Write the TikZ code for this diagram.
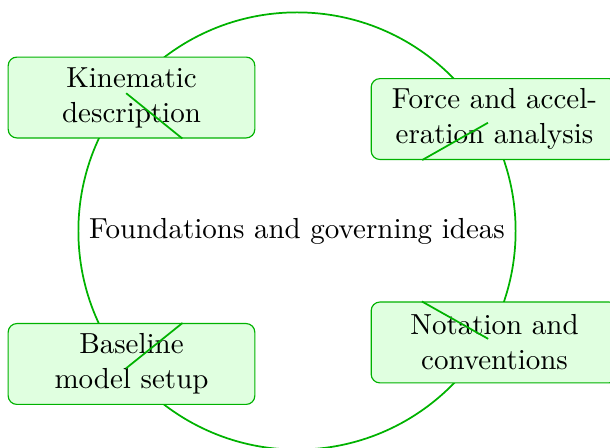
\documentclass[tikz,border=0pt]{standalone}
\usepackage{tikz}
\usetikzlibrary{shapes.multipart}

\definecolor{topicgreen}{RGB}{0,178,0}
\definecolor{topicfill}{RGB}{224,255,224}

\begin{document}
\begin{tikzpicture}[
            semithick, % line style
            every text node part/.style={align=center}
        ]

        \tikzstyle{core}=[
            circle,
            draw = topicgreen,
            semithick,
            minimum size = 5.3cm
        ]
        \tikzstyle{topic}=[
            rectangle,
            draw = topicgreen,
            thin,
            fill = topicfill,
            rounded corners = 3pt,
            minimum width = 2.99cm,
            minimum height = 0.98cm,
            inner sep = 2pt
        ]

        \useasboundingbox (-3.6,-2.63) rectangle (3.794,2.8);

        \node[core] (FND) at (0,0) {Foundations and governing ideas};

        \node[topic] (KIN) at (-2.006,1.618) {Kinematic \\ description};
        \node[topic] (FRC) at (2.394,1.357) {Force and accel- \\ eration analysis};
        \node[topic] (NOT) at (2.394,-1.351) {Notation and \\ conventions};
        \node[topic] (BAS) at (-2.006,-1.612) {Baseline \\ model setup};

        \path[draw=topicgreen] (FND) edge (KIN);
        \path[draw=topicgreen] (FND) edge (FRC);
        \path[draw=topicgreen] (FND) edge (NOT);
        \path[draw=topicgreen] (FND) edge (BAS);

    \end{tikzpicture}
\end{document}
